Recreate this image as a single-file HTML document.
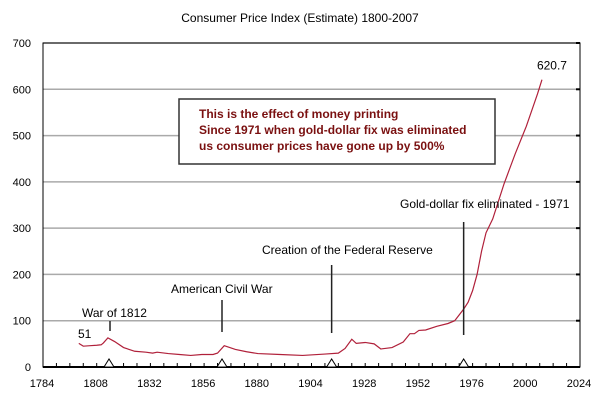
<!DOCTYPE html>
<html><head><meta charset="utf-8"><style>
body{margin:0;background:#fff;}
svg{display:block;font-family:"Liberation Sans",sans-serif;}
</style></head><body>
<svg id="chart" width="600" height="404">
<text x="300" y="22" text-anchor="middle" font-size="12">Consumer Price Index (Estimate) 1800-2007</text>
<g id="grid"></g><g id="axes"></g><g id="series"></g><g id="notes"></g>
</svg>
<script>
const years=[1800,1802,1805,1808,1810,1811,1813,1816,1820,1825,1830,1833,1835,1840,1845,1850,1855,1860,1862,1865,1870,1875,1880,1890,1900,1910,1916,1919,1922,1924,1928,1932,1935,1940,1945,1948,1950,1952,1955,1960,1965,1968,1972,1974,1976,1978,1980,1982,1985,1990,1995,2000,2005,2007];
const cpi=[51,45,46,47,48,52,63,55,42,34,32,30,32,29,27,25,27,27,30,46,38,33,29,27,25,28,30,40,60,51,53,50,39,42,54,72,72,79,80,88,94,100,125,140,165,200,250,290,320,395,460,520,590,620.7];
const yTicks=[0,100,200,300,400,500,600,700];
const xTicks=[1784,1808,1832,1856,1880,1904,1928,1952,1976,2000,2024];
const events=["War of 1812","American Civil War","Creation of the Federal Reserve","Gold-dollar fix eliminated - 1971"];
const eventYears=[1813.5,1864,1913,1972];
const NS="http://www.w3.org/2000/svg";
const X0=43,X1=580,Y0=367,Y1=43;
const x=v=>X0+(v-1784)/(2024-1784)*(X1-X0);
const y=v=>Y0-v/700*(Y0-Y1);
function mk(p,t,a){const e=document.createElementNS(NS,t);for(const k in a)e.setAttribute(k,a[k]);p.appendChild(e);return e;}
const grid=document.getElementById('grid'),axes=document.getElementById('axes'),series=document.getElementById('series'),notes=document.getElementById('notes');
yTicks.forEach(t=>{
 const l=mk(grid,'line',{x1:X0,x2:X1,y1:y(t),y2:y(t),stroke:t===0?'#000':'#aaa','stroke-width':t===0?2:1.5});
 
 
 const tx=mk(axes,'text',{x:31,y:y(t)+4,'text-anchor':'end','font-size':11});
 tx.textContent=t;
 
 
 mk(axes,'line',{x1:X1-4,x2:X1,y1:y(t),y2:y(t),stroke:'#000','stroke-width':2});
});
const fr=mk(axes,'rect',{x:X0,y:Y1,width:X1-X0,height:Y0-Y1,fill:'none',stroke:'#000','stroke-width':1});


for(let yr=1784;yr<=2024;yr+=6){mk(axes,'line',{x1:x(yr),x2:x(yr),y1:Y0,y2:Y0-(yr%24===0?7:4),stroke:'#000','stroke-width':1});}
xTicks.forEach(t=>{
 const tx=mk(axes,'text',{x:x(t)-1,y:387,'text-anchor':'middle','font-size':11});
 tx.textContent=t;
 
 
});
const pl=mk(series,'polyline',{points:years.map((yr,i)=>x(yr)+','+y(cpi[i])).join(' '),fill:'none',stroke:'#b0203a','stroke-width':1.2});


const labelPos=[[82,317],[171,293],[262,254],[400,208]];
const lineTop=[321,300,265,222];
const lineBot=[331,332,333,335];
eventYears.forEach((yr,i)=>{
 const tri=mk(notes,'polygon',{points:`${x(yr)-5},${Y0} ${x(yr)+5},${Y0} ${x(yr)},${Y0-8}`,fill:'#fff',stroke:'#000'});
 
 
 const ln=mk(notes,'line',{x1:x(yr)+(i===0?1:0),x2:x(yr)+(i===0?1:0),y1:lineTop[i],y2:lineBot[i],stroke:'#222','stroke-width':1.5});
 
 
 const tx=mk(notes,'text',{x:labelPos[i][0],y:labelPos[i][1],'font-size':12});
 tx.textContent=events[i];
 
 
});
const s=mk(notes,'text',{x:78,y:338,'font-size':12});s.textContent=cpi[0];


const e=mk(notes,'text',{x:x(2007)+10,y:y(cpi[cpi.length-1])-10,'font-size':12,'text-anchor':'middle'});e.textContent=cpi[cpi.length-1];


const box=mk(notes,'rect',{x:179,y:99,width:316,height:65,fill:'#fff',stroke:'#333','stroke-width':1.5});


["This is the effect of money printing","Since 1971 when gold-dollar fix was eliminated","us consumer prices have gone up by 500%"].forEach((t,i)=>{
 const tx=mk(notes,'text',{x:199,y:118+i*16,'font-size':12,'font-weight':'bold',fill:'#7a1010'});
 tx.textContent=t;
 
 
});
</script>
</body></html>
